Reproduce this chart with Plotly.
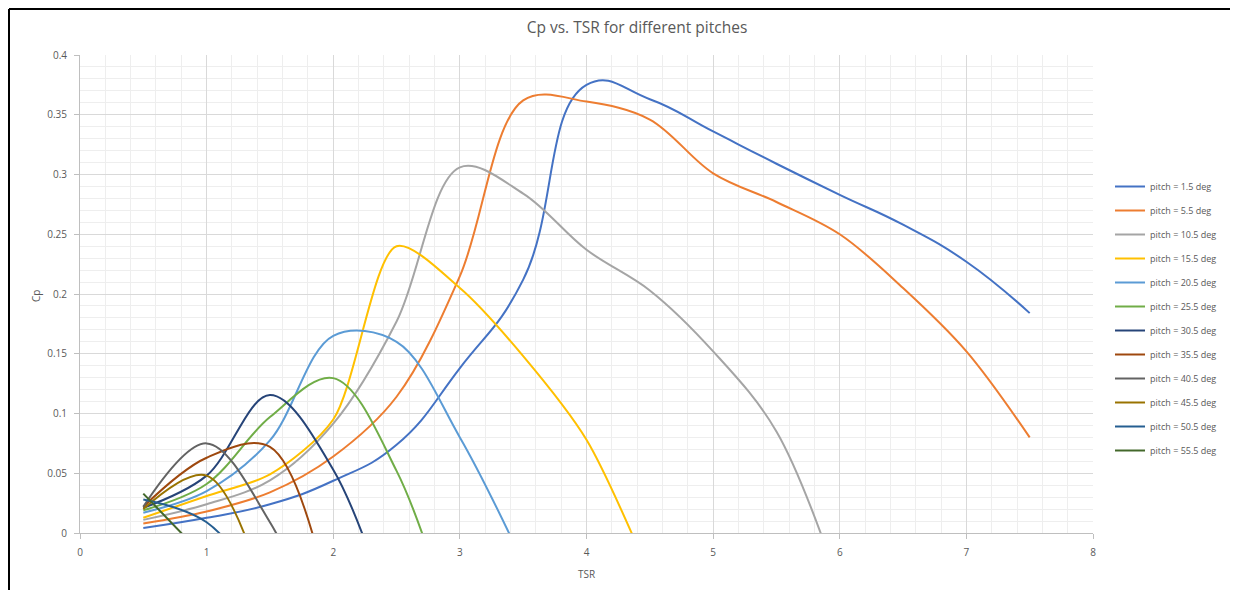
import plotly.graph_objects as go

tsr = [0.5, 1.0, 1.5, 2.0, 2.5, 3.0, 3.5, 4.0, 4.5, 5.0, 5.5, 6.0, 6.5, 7.0, 7.5]

p1_5 = [0.0042, 0.0127, 0.024, 0.0437, 0.0738, 0.138, 0.212, 0.375, 0.363, 0.336, 0.309, 0.283, 0.258, 0.227, 0.184]
p5_5 = [0.008, 0.018, 0.034, 0.064, 0.114, 0.215, 0.362, 0.361, 0.346, 0.301, 0.277, 0.250, 0.205, 0.152, 0.080]
p10_5 = [0.011, 0.024, 0.044, 0.0915, 0.177, 0.306, 0.284, 0.237, 0.203, 0.152, 0.085, -0.045]
p15_5 = [0.0127, 0.031, 0.049, 0.095, 0.240, 0.205, 0.148, 0.078, -0.035]
p20_5 = [0.017, 0.035, 0.0775, 0.165, 0.160, 0.080, -0.025]
p25_5 = [0.019, 0.041, 0.097, 0.1296, 0.052, -0.10]
p30_5 = [0.021, 0.048, 0.1155, 0.053, -0.085]
p35_5 = [0.022, 0.063, 0.072, -0.07]
p40_5 = [0.022, 0.075, 0.009, -0.11]
p45_5 = [0.020, 0.048, -0.065]
p50_5 = [0.028, 0.009, -0.055]
p55_5 = [0.033, -0.022]

names = ["pitch = 1.5 deg", "pitch = 5.5 deg", "pitch = 10.5 deg", "pitch = 15.5 deg",
         "pitch = 20.5 deg", "pitch = 25.5 deg", "pitch = 30.5 deg", "pitch = 35.5 deg",
         "pitch = 40.5 deg", "pitch = 45.5 deg", "pitch = 50.5 deg", "pitch = 55.5 deg"]
series = [p1_5, p5_5, p10_5, p15_5, p20_5, p25_5, p30_5, p35_5, p40_5, p45_5, p50_5, p55_5]
colors = ["#4472C4", "#ED7D31", "#A5A5A5", "#FFC000", "#5B9BD5", "#70AD47",
          "#264478", "#9E480E", "#636363", "#997300", "#255E91", "#43682B"]
smooth = [1.3, 1.0, 1.0, 0.8, 1.0, 1.0, 1.0, 1.0, 1.0, 1.0, 1.0, 1.0]

fig = go.Figure()
for name, ys, c, s in zip(names, series, colors, smooth):
    fig.add_trace(go.Scatter(
        x=tsr[:len(ys)], y=ys, mode="lines", name=name, legendgroup=name,
        line=dict(color=c, width=2, shape="spline", smoothing=s),
    ))

# the page body adds an 8px offset; work in screen pixels and convert
OFF = 8
W, H = 1238 - OFF, 590 - OFF
PL, PR, PT, PB = 80, 1093, 55, 533  # plot area in screen px
L, R, T, B = PL - OFF, W - (PR - OFF), PT - OFF, H - (PB - OFF)

def px_x(p):
    return (p - PL) / (PR - PL)

def px_y(p):
    return (PB - p) / (PB - PT)

grey = "#595959"
fig.update_layout(
    width=W, height=H,
    margin=dict(l=L, r=R, t=T, b=B),
    paper_bgcolor="white", plot_bgcolor="white",
    font=dict(family="Open Sans, Liberation Sans, sans-serif", color=grey, size=10),
    title=dict(text="Cp vs. TSR for different pitches", x=(637 - OFF) / W, xanchor="center",
               y=1 - (28 - OFF) / H, yanchor="middle", font=dict(size=15.5, color=grey)),
    showlegend=True,
    legend=dict(x=px_x(1110), xanchor="left", y=px_y(172), yanchor="top",
                font=dict(size=9, color=grey), itemwidth=30, tracegroupgap=5,
                traceorder="grouped", bgcolor="rgba(0,0,0,0)"),
    xaxis=dict(range=[0, 8], dtick=1, tick0=0, showgrid=True, gridcolor="#d9d9d9", gridwidth=1,
               zeroline=False, showline=True, linecolor="#bfbfbf", linewidth=1,
               ticks="outside", ticklen=5, tickcolor="#bfbfbf", tickfont=dict(size=10, color=grey),
               ticklabelstandoff=5,
               minor=dict(dtick=0.2, showgrid=True, gridcolor="#eeeeee", gridwidth=1)),
    yaxis=dict(range=[0, 0.4], dtick=0.05, tick0=0, showgrid=True, gridcolor="#d9d9d9", gridwidth=1,
               zeroline=False, showline=True, linecolor="#bfbfbf", linewidth=1,
               ticks="outside", ticklen=5, tickcolor="#bfbfbf", tickfont=dict(size=10, color=grey),
               tickformat="~g", ticklabelstandoff=5,
               minor=dict(dtick=0.01, showgrid=True, gridcolor="#eeeeee", gridwidth=1)),
    annotations=[
        dict(text="TSR", x=px_x(586), y=px_y(574), xref="paper", yref="paper",
             showarrow=False, xanchor="center", yanchor="middle", font=dict(size=10, color=grey)),
        dict(text="Cp", x=px_x(36), y=px_y(296), xref="paper", yref="paper", textangle=-90,
             showarrow=False, xanchor="center", yanchor="middle", font=dict(size=10, color=grey)),
    ],
    shapes=[
        dict(type="line", xref="paper", yref="paper", x0=px_x(9), x1=px_x(1245),
             y0=px_y(9), y1=px_y(9), line=dict(color="black", width=2)),
        dict(type="line", xref="paper", yref="paper", x0=px_x(9), x1=px_x(9),
             y0=px_y(9), y1=px_y(600), line=dict(color="black", width=2)),
    ],
)

fig.write_html("out.html")
